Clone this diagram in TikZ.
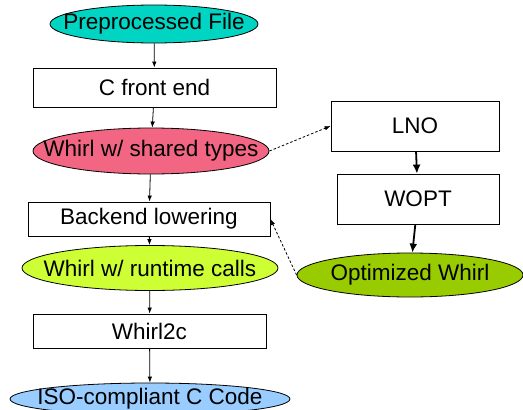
\documentclass[tikz,border=0pt]{standalone}
\usepackage{fontspec}
\setmainfont{Liberation Sans}
\usetikzlibrary{shapes.geometric,arrows.meta,positioning}

\definecolor{fileteal}{RGB}{0,212,194}
\definecolor{sharedpink}{RGB}{242,102,132}
\definecolor{callslime}{RGB}{206,255,52}
\definecolor{codeblue}{RGB}{153,204,255}
\definecolor{optolive}{RGB}{153,204,0}

\begin{document}
\begin{tikzpicture}[x=1pt,y=-1pt,
    font=\fontsize{22.5}{26}\selectfont,
    stage/.style={draw,rectangle,inner sep=0pt,line width=0.8pt},
    % text goes in a centred label so the ellipse keeps its own size
    ir/.style={draw,ellipse,inner sep=0pt,line width=0.8pt,label=center:{#1}},
    flow/.style={-{Latex[length=6pt,width=4.5pt]},line width=0.8pt},
    bigflow/.style={-{Latex[length=9pt,width=8pt]},line width=1.8pt},
    hint/.style={-{Latex[length=6pt,width=4.5pt]},dash pattern=on 2.5pt off 2pt,line width=0.8pt}]
  \useasboundingbox (0,0) rectangle (523,410);
  % main pipeline
  \node[ir=Preprocessed File,fill=fileteal,minimum width=208pt,minimum height=38pt] at (154,24) (pre) {};
  \node[stage,minimum width=243pt,minimum height=39pt] at (154.5,87.5) (cfe) {C front end};
  \node[ir=Whirl w/ shared types,fill=sharedpink,minimum width=236pt,minimum height=46pt] at (151,151) (shared) {};
  \node[stage,minimum width=242pt,minimum height=34pt] at (149,219) (lower) {Backend lowering};
  \node[ir=Whirl w/ runtime calls,fill=callslime,minimum width=256pt,minimum height=45pt] at (150,268) (calls) {};
  \node[stage,minimum width=233pt,minimum height=34pt] at (149.5,331) (w2c) {Whirl2c};
  \node[ir=ISO-compliant C Code,fill=codeblue,minimum width=280pt,minimum height=32pt] at (150,399) (iso) {};
  % optimizer branch
  \node[stage,minimum width=168pt,minimum height=50pt] at (415,126) (lno) {LNO};
  \node[stage,minimum width=162pt,minimum height=50pt] at (418,199) (wopt) {WOPT};
  \node[ir=Optimized Whirl,fill=optolive,minimum width=226pt,minimum height=44pt] at (410,275) (opt) {};

  \draw[flow] (pre) -- (cfe);
  \draw[flow] (cfe) -- (shared);
  \draw[flow] (shared) -- (lower);
  \draw[flow] (lower) -- (calls);
  \draw[flow] (calls) -- (w2c);
  \draw[flow] (w2c) -- (iso);
  \draw[bigflow] (lno) -- (wopt);
  \draw[bigflow] (wopt) -- (opt);
  \draw[hint] (shared.east) -- (lno.west);
  \draw[hint] (opt.west) -- (lower.east);
\end{tikzpicture}
\end{document}
